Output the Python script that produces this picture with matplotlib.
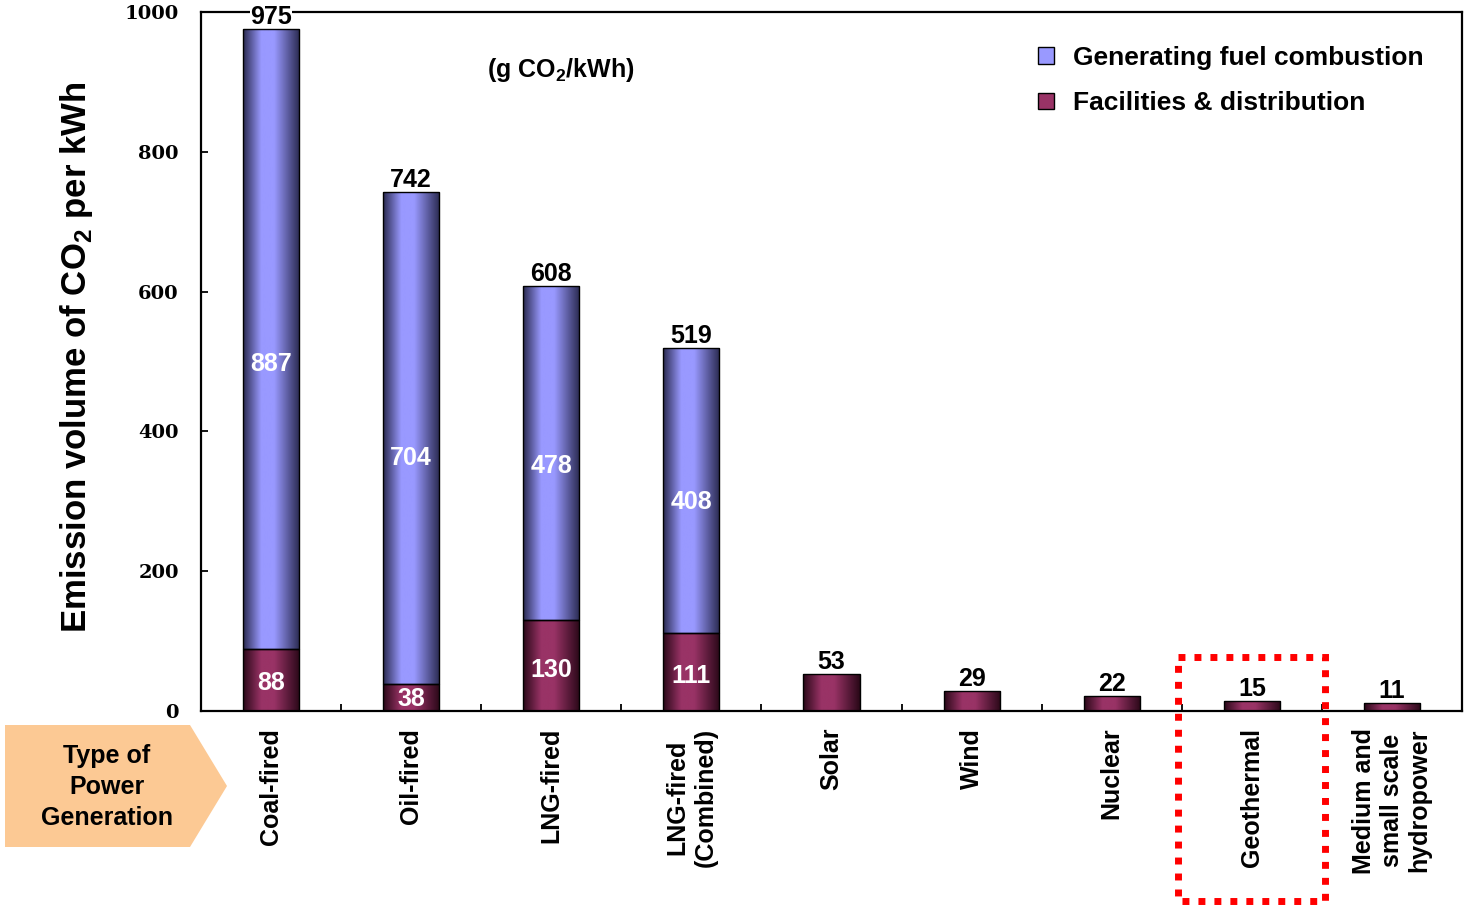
import numpy as np
import matplotlib
matplotlib.use("Agg")
import matplotlib.pyplot as plt
from matplotlib.colors import LinearSegmentedColormap
from matplotlib.patches import Patch, Polygon, Rectangle

plt.rcParams["font.family"] = ["Liberation Sans", "DejaVu Sans"]
plt.rcParams["font.weight"] = "bold"

CATEGORIES = ["Coal-fired", "Oil-fired", "LNG-fired", "LNG-fired\n(Combined)",
              "Solar", "Wind", "Nuclear", "Geothermal",
              "Medium and\nsmall scale\nhydropower"]
FUEL = [887, 704, 478, 408, 0, 0, 0, 0, 0]
FACILITIES = [88, 38, 130, 111, 53, 29, 22, 15, 11]
TOTALS = [975, 742, 608, 519, 53, 29, 22, 15, 11]
Y_TICKS = [0, 200, 400, 600, 800, 1000]

BLUE_MID = "#9999ff"
MAROON_MID = "#993366"

W, H = 1466, 908
fig = plt.figure(figsize=(W / 100, H / 100), dpi=100)
ax = fig.add_axes([201 / W, 1 - 711 / H, 1261 / W, 699 / H])

x = np.arange(len(CATEGORIES))
bar_w = 0.4

# bars carry only the outline (drawn above labels), gradient goes underneath
fac_bars = ax.bar(x, FACILITIES, width=bar_w, color="none", edgecolor="black",
                  linewidth=1, zorder=6)
fuel_bars = ax.bar(x, FUEL, width=bar_w, bottom=FACILITIES, color="none",
                   edgecolor="black", linewidth=1, zorder=6)


def shade(mid, dark):
    return LinearSegmentedColormap.from_list(
        "g", [(0, dark), (0.32, mid), (0.55, mid), (1, dark)])


cm_blue = shade(BLUE_MID, "#2a2a50")
cm_mar = shade(MAROON_MID, "#2a0818")
grad = np.linspace(0, 1, 128).reshape(1, -1)

for bars, cmap in [(fac_bars, cm_mar), (fuel_bars, cm_blue)]:
    for p in bars:
        if p.get_height() <= 0:
            p.set_visible(False)
            continue
        x0, y0 = p.get_x(), p.get_y()
        im = ax.imshow(grad, cmap=cmap, aspect="auto", zorder=1.9,
                       extent=(x0, x0 + p.get_width(), y0, y0 + p.get_height()))
        im.set_clip_path(p)

ax.set_xlim(-0.5, len(CATEGORIES) - 0.5)
ax.set_ylim(0, 1000)

# value labels
for i in range(len(CATEGORIES)):
    ax.text(x[i], TOTALS[i], str(TOTALS[i]), ha="center", va="bottom",
            fontsize=18, fontweight="bold", color="black", zorder=5,
            bbox=dict(facecolor="white", edgecolor="none", pad=0))
    if FUEL[i] > 0:
        ax.text(x[i], FACILITIES[i] + FUEL[i] * 0.46, str(FUEL[i]), ha="center",
                va="center", fontsize=18, fontweight="bold", color="white", zorder=5)
        ax.text(x[i], FACILITIES[i] * 0.45, str(FACILITIES[i]), ha="center",
                va="center", fontsize=18, fontweight="bold", color="white", zorder=5)

# axes styling
for s in ax.spines.values():
    s.set_linewidth(1.6)
ax.set_yticks(Y_TICKS)
ax.set_yticklabels([str(t) for t in Y_TICKS], family="DejaVu Serif",
                   fontweight="bold", fontsize=14)
ax.tick_params(axis="y", direction="in", length=5, width=1.3, pad=16)
ax.set_xticks(x)
ax.set_xticklabels(CATEGORIES, rotation=90, va="top", ha="center",
                   multialignment="center", fontsize=18, fontweight="bold",
                   linespacing=1.2)
ax.tick_params(axis="x", which="major", length=0, pad=12)
ax.set_xticks(np.arange(len(CATEGORIES) + 1) - 0.5, minor=True)
ax.tick_params(axis="x", which="minor", direction="in", length=5, width=1.3)

ax.set_ylabel("Emission volume of CO$_\\mathregular{2}$ per kWh", fontsize=25,
              fontweight="bold", va="center")
ax.yaxis.set_label_coords((77 - 201) / 1261, 0.506)

ax.text(0.2855, 0.917, "(g CO$_\\mathregular{2}$/kWh)", transform=ax.transAxes,
        ha="center", va="center", fontsize=18, fontweight="bold")

handles = [Patch(facecolor=BLUE_MID, edgecolor="black", linewidth=1),
           Patch(facecolor=MAROON_MID, edgecolor="black", linewidth=1)]
ax.legend(handles, ["Generating fuel combustion", "Facilities & distribution"],
          loc="upper left", bbox_to_anchor=(0.664, 0.952), frameon=False,
          handlelength=0.6, handleheight=0.6, handletextpad=0.7,
          labelspacing=0.82, borderpad=0, borderaxespad=0,
          prop=dict(weight="bold", size=19))

# overlay in pixel coordinates for the decorations
ov = fig.add_axes([0, 0, 1, 1], zorder=10)
ov.set_xlim(0, W)
ov.set_ylim(H, 0)
ov.axis("off")
ov.add_patch(Polygon([(5, 725), (190, 725), (227, 786), (190, 847), (5, 847)],
                     closed=True, facecolor="#fcc994", edgecolor="none"))
ov.text(107, 787, "Type of\nPower\nGeneration", ha="center", va="center",
        fontsize=18, fontweight="bold", linespacing=1.35)
ov.add_patch(Rectangle((1178, 657), 147, 244, fill=False, edgecolor="red",
                       linewidth=5, linestyle=(0, (1, 1.3))))

fig.savefig("out.png", dpi=100)
